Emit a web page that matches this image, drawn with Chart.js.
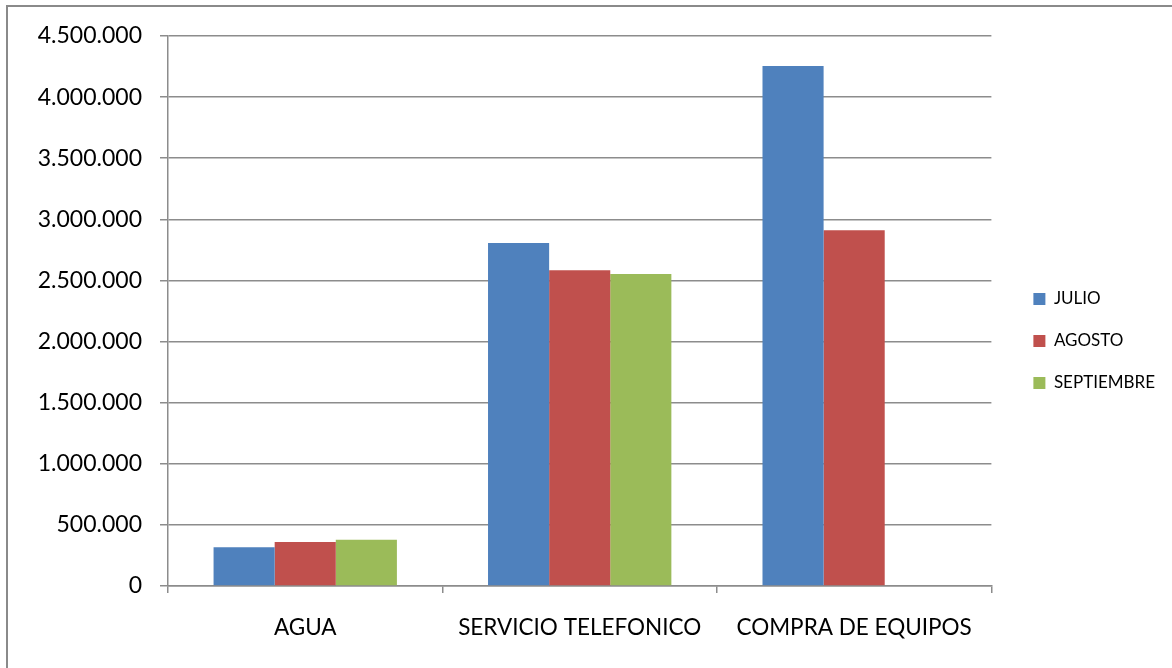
<!DOCTYPE html>
<html>
<head>
<meta charset="utf-8">
<script src="https://cdn.jsdelivr.net/npm/chart.js@4"></script>
<style>
    html, body { margin: 0; padding: 0; background: #fff; }
    #wrap { position: relative; width: 1172px; height: 668px; overflow: hidden; }
    #frame { position: absolute; left: 6px; top: 5px; width: 1200px; height: 700px;
             border-top: 2px solid #8a8a8a; border-left: 2px solid #8a8a8a; }
    #chart { position: absolute; left: 0; top: 0; }
</style>
</head>
<body>
<div id="wrap">
    <div id="frame"></div>
    <canvas id="chart" width="1172" height="668"></canvas>
</div>
<script>
const categories = ['AGUA', 'SERVICIO TELEFONICO', 'COMPRA DE EQUIPOS'];
const julio = [317000, 2806000, 4255000];
const agosto = [360000, 2584000, 2910000];
const septiembre = [378000, 2552000, null];

const gridColor = '#8c8c8c';
const fontFamily = 'Lato';

function formatNumber(v) {
    return String(v).replace(/\B(?=(\d{3})+(?!\d))/g, '.');
}

const config = {
    type: 'bar',
    data: {
        labels: categories,
        datasets: [
            {label: 'JULIO', data: julio, backgroundColor: '#4f81bd'},
            {label: 'AGOSTO', data: agosto, backgroundColor: '#c0504d'},
            {label: 'SEPTIEMBRE', data: septiembre, backgroundColor: '#9bbb59'}
        ]
    },
    options: {
        responsive: false,
        animation: false,
        layout: {
            padding: {top: 36, right: 7, bottom: 22, left: 0}
        },
        datasets: {
            bar: {
                categoryPercentage: 0.668,
                barPercentage: 1,
                borderWidth: 0
            }
        },
        scales: {
            x: {
                offset: true,
                grid: {
                    display: true,
                    drawOnChartArea: false,
                    drawTicks: true,
                    tickLength: 7,
                    color: gridColor,
                    lineWidth: 1.5
                },
                border: {color: gridColor, width: 1.5},
                ticks: {
                    color: '#000',
                    padding: 21,
                    maxRotation: 0,
                    font: {family: fontFamily, size: 22.5}
                },
                afterFit: (scale) => { scale.height = 60; }
            },
            y: {
                min: 0,
                max: 4500000,
                grid: {
                    color: gridColor,
                    lineWidth: 1.5,
                    tickLength: 8
                },
                border: {color: gridColor, width: 1.5},
                ticks: {
                    stepSize: 500000,
                    color: '#000',
                    padding: 18,
                    font: {family: fontFamily, size: 23},
                    callback: (v) => formatNumber(v)
                },
                afterFit: (scale) => { scale.width = 168; }
            },
            gap: {
                position: 'right',
                display: true,
                grid: {display: false},
                border: {display: false},
                ticks: {display: false},
                afterFit: (scale) => { scale.width = 17; }
            }
        },
        plugins: {
            legend: {
                position: 'right',
                labels: {
                    color: '#000',
                    boxWidth: 12,
                    boxHeight: 12,
                    padding: 25,
                    font: {family: fontFamily, size: 17}
                }
            },
            tooltip: {enabled: false}
        }
    }
};

new Chart(document.getElementById('chart'), config);
</script>
</body>
</html>
